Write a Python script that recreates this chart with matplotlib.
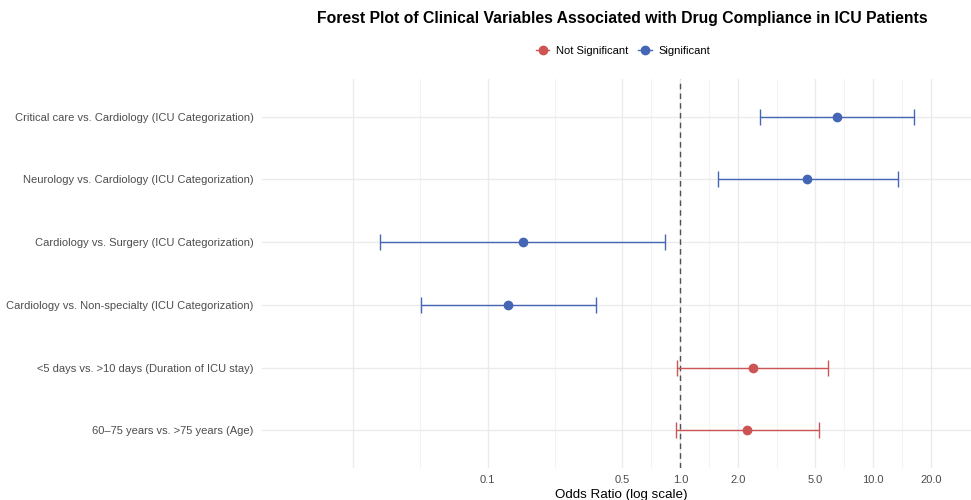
import matplotlib
matplotlib.use("Agg")
import matplotlib.pyplot as plt
from matplotlib.lines import Line2D
import numpy as np

plt.rcParams['font.family'] = ['Liberation Sans', 'DejaVu Sans']

labels = [
    "Critical care vs. Cardiology (ICU Categorization)",
    "Neurology vs. Cardiology (ICU Categorization)",
    "Cardiology vs. Surgery (ICU Categorization)",
    "Cardiology vs. Non-specialty (ICU Categorization)",
    "<5 days vs. >10 days (Duration of ICU stay)",
    "60\u201375 years vs. >75 years (Age)",
]
odds_ratio = [6.50, 4.55, 0.153, 0.127, 2.38, 2.22]
ci_low = [2.59, 1.57, 0.0277, 0.0448, 0.962, 0.949]
ci_high = [16.3, 13.4, 0.829, 0.364, 5.84, 5.23]
significant = [True, True, True, True, False, False]

tick_values = [0.1, 0.5, 1.0, 2.0, 5.0, 10.0, 20.0]
tick_labels = ["0.1", "0.5", "1.0", "2.0", "5.0", "10.0", "20.0"]
extra_major = [0.02]

RED = "#CD5454"
BLUE = "#4566B4"

fig = plt.figure(figsize=(9.71, 5.0), dpi=100)
ax = fig.add_axes([262/971, 32/500, 709/971, 389/500])
ax.set_xscale('log')
ax.set_xlim(0.00674, 32.2)
ax.set_ylim(len(labels) - 0.4, -0.6)

# grid
allmaj = sorted(extra_major + tick_values)
minors = [np.sqrt(a * b) for a, b in zip(allmaj[:-1], allmaj[1:])]
for v in allmaj:
    ax.axvline(v, color="#EBEBEB", lw=1.0, zorder=0)
for v in minors:
    ax.axvline(v, color="#F3F3F3", lw=0.8, zorder=0)
for i in range(len(labels)):
    ax.axhline(i, color="#EBEBEB", lw=1.0, zorder=0)

ax.axvline(1.0, color="#505050", lw=1.0, ls=(0, (4, 3)), zorder=1)

for i, (o, lo, hi, s) in enumerate(zip(odds_ratio, ci_low, ci_high, significant)):
    c = BLUE if s else RED
    ax.errorbar([o], [i], xerr=[[o - lo], [hi - o]], fmt='o', color=c, ecolor=c,
                elinewidth=1.0, capsize=6, capthick=1.0, markersize=6, zorder=3)

ax.set_xticks(tick_values)
ax.set_xticklabels(tick_labels)
ax.xaxis.set_minor_locator(matplotlib.ticker.NullLocator())
ax.set_yticks(range(len(labels)))
ax.set_yticklabels(labels)
ax.tick_params(axis='y', length=0, labelsize=8.0, colors="#4D4D4D", pad=6)
ax.tick_params(axis='x', length=0, labelsize=8.0, colors="#4D4D4D", pad=5)
for sp in ax.spines.values():
    sp.set_visible(False)

ax.set_xlabel("Odds Ratio (log scale)", fontsize=9.6, color="black")
ax.xaxis.label.set_verticalalignment('center')
ax.xaxis.set_label_coords((621 - 262) / 709, -(495 - 468) / 389)

fig.text(622/971, 1 - 19/500, "Forest Plot of Clinical Variables Associated with Drug Compliance in ICU Patients",
         ha='center', va='center', fontsize=11.3, fontweight='bold')

handles = [
    Line2D([0], [0], color=RED, marker='o', markersize=6, lw=1.0, label="Not Significant"),
    Line2D([0], [0], color=BLUE, marker='o', markersize=6, lw=1.0, label="Significant"),
]
fig.legend(handles=handles, loc='center', bbox_to_anchor=(623/971, 1 - 51/500), ncol=2,
           frameon=False, fontsize=8.0, handlelength=1.2, handletextpad=0.6, columnspacing=0.9)

fig.savefig("out.png", dpi=100)
